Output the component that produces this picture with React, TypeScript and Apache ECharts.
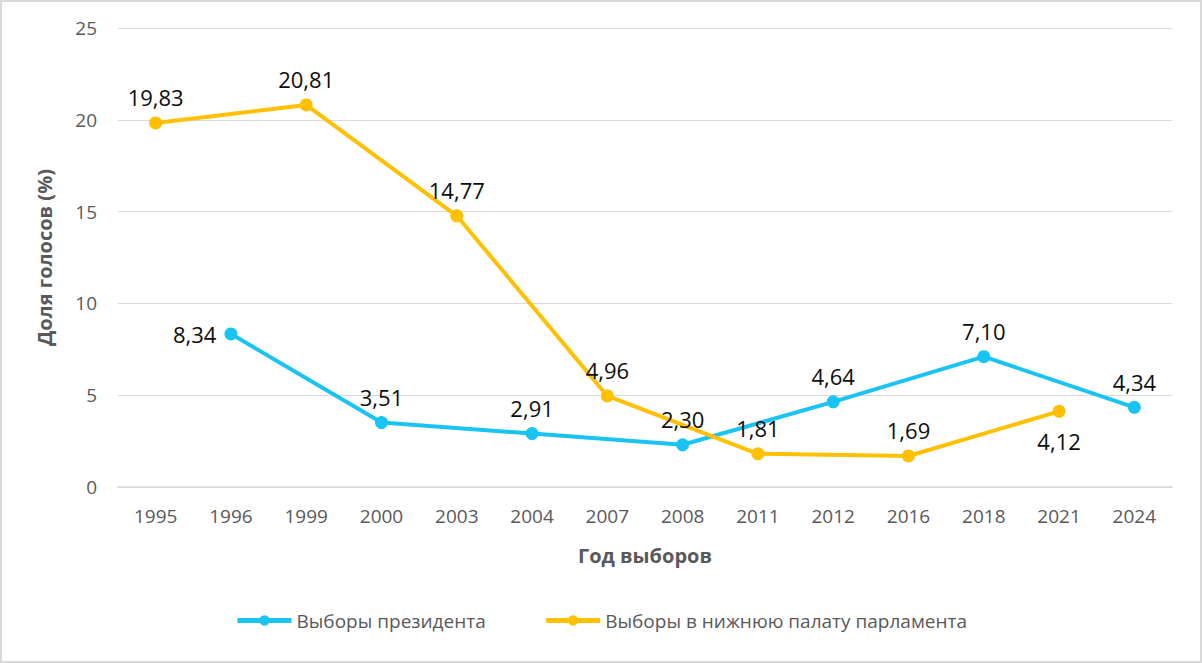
import React, { useEffect, useRef } from "react";
import * as echarts from "echarts";

const categories = ["1995", "1996", "1999", "2000", "2003", "2004", "2007", "2008", "2011", "2012", "2016", "2018", "2021", "2024"];
const presidentValues: (number | null)[] = [null, 8.34, null, 3.51, null, 2.91, null, 2.30, null, 4.64, null, 7.10, null, 4.34];
const parliamentValues: (number | null)[] = [19.83, null, 20.81, null, 14.77, null, 4.96, null, 1.81, null, 1.69, null, 4.12, null];
const presidentName = "Выборы президента";
const parliamentName = "Выборы в нижнюю палату парламента";
const yTitle = "Доля голосов (%)";
const xTitle = "Год выборов";

const FONT = "'Open Sans', 'Noto Sans', sans-serif";
const BLUE = "#19c3f2";
const YELLOW = "#ffc000";

function fmt(v: number) {
  return v.toFixed(2).replace(".", ",");
}

export default function App() {
  const ref = useRef<HTMLDivElement>(null);
  useEffect(() => {
    document.body.style.margin = "0";
    if (!ref.current) return;
    const chart = echarts.init(ref.current, undefined, { renderer: "svg" });
    const labelBase = {
      show: true,
      position: "top" as const,
      distance: 8,
      color: "#0d0d0d",
      fontSize: 22,
      fontFamily: FONT,
      formatter: (p: any) => fmt(p.value as number),
    };
    const mkData = (vals: (number | null)[], overrides: Record<number, any>) =>
      vals.map((v, i) => {
        if (v === null) return null;
        if (overrides[i]) return { value: v, label: overrides[i] };
        return v;
      });
    chart.setOption({
      animation: false,
      backgroundColor: "#ffffff",
      grid: { left: 116, right: 28, top: 26, bottom: 174 },
      legend: {
        bottom: 26,
        left: "center",
        itemWidth: 54,
        itemHeight: 13,
        itemGap: 58,
        lineStyle: { width: 5 },
        textStyle: { color: "#595959", fontSize: 19, fontFamily: FONT },
        data: [presidentName, parliamentName],
      },
      xAxis: {
        type: "category",
        data: categories,
        boundaryGap: true,
        name: xTitle,
        nameLocation: "middle",
        nameGap: 58,
        nameTextStyle: { color: "#595959", fontSize: 20, fontWeight: "bold", fontFamily: FONT },
        axisLine: { lineStyle: { color: "#d9d9d9", width: 1.5 } },
        axisTick: { show: false },
        axisLabel: { color: "#595959", fontSize: 19, margin: 19, fontFamily: FONT },
      },
      yAxis: {
        type: "value",
        min: 0,
        max: 25,
        interval: 5,
        name: yTitle,
        nameLocation: "middle",
        nameGap: 64,
        nameTextStyle: { color: "#595959", fontSize: 20, fontWeight: "bold", fontFamily: FONT },
        axisLine: { show: false },
        axisTick: { show: false },
        splitLine: { lineStyle: { color: "#d9d9d9", width: 1 } },
        axisLabel: { color: "#595959", fontSize: 19, margin: 21, fontFamily: FONT },
      },
      series: [
        {
          name: presidentName,
          type: "line",
          data: mkData(presidentValues, { 1: { position: "left", distance: 8 } }),
          connectNulls: true,
          symbol: "circle",
          symbolSize: 13,
          lineStyle: { color: BLUE, width: 4 },
          itemStyle: { color: BLUE },
          label: labelBase,
        },
        {
          name: parliamentName,
          type: "line",
          data: mkData(parliamentValues, { 12: { position: "bottom", distance: 12 } }),
          connectNulls: true,
          symbol: "circle",
          symbolSize: 13,
          lineStyle: { color: YELLOW, width: 4 },
          itemStyle: { color: YELLOW },
          label: labelBase,
        },
      ],
    });
    return () => chart.dispose();
  }, []);
  return (
    <div
      style={{
        width: 1202,
        height: 663,
        boxSizing: "border-box",
        border: "2px solid #d9d9d9",
        background: "#fff",
      }}
    >
      <div ref={ref} style={{ width: 1198, height: 659 }} />
    </div>
  );
}
